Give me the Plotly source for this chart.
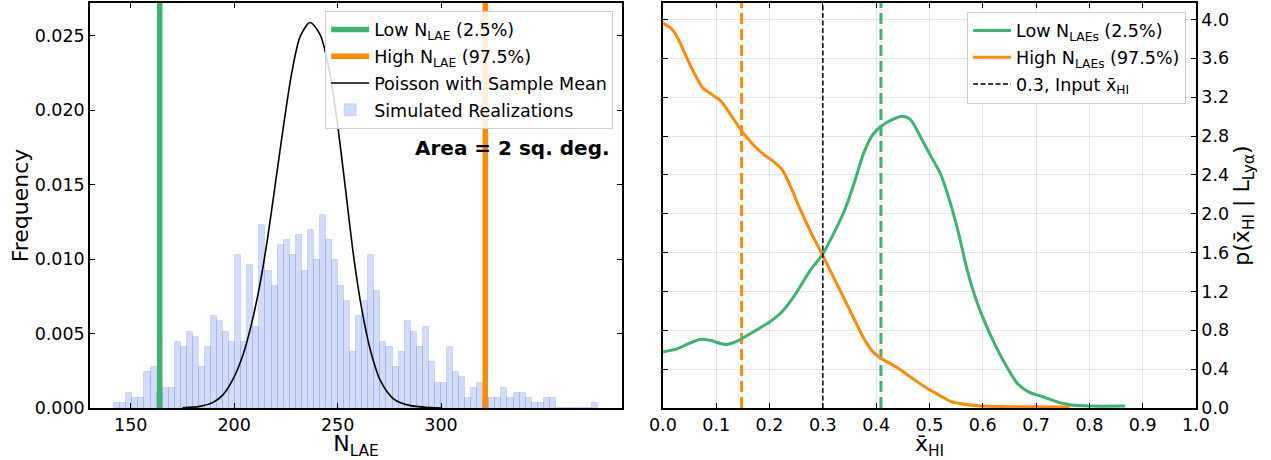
import plotly.graph_objects as go

# ---------------- Left panel data ----------------
n_realizations = 1000
bin_start = 142.0
bin_width = 2.925
hist_counts = [1, 1, 3, 2, 2, 7, 8, 3, 4, 4,
               13, 12, 15, 14, 8, 12, 18, 17, 15, 13,
               30, 13, 28, 16, 36, 27, 24, 32, 33, 30,
               34, 27, 35, 29, 38, 33, 29, 24, 21, 11,
               18, 21, 30, 23, 13, 12, 8, 11, 17, 15,
               12, 16, 9, 5, 5, 12, 7, 6, 2, 4,
               5, 2, 2, 2, 4, 2, 3, 3, 2, 1,
               1, 2, 2, 0, 0, 0, 0, 0, 0, 1]
low_nlae = 164.0
high_nlae = 321.4
poisson_x = [175.0, 183.3, 189.8, 194.7, 199.5, 204.4, 208.4, 212.5, 216.0, 219.7,
             223.8, 227.8, 231.9, 236.7, 241.6, 245.6, 249.7, 253.7, 257.8, 261.8,
             265.9, 270.7, 277.2, 285.3, 300.0]
poisson_y = [0.00002, 0.00011, 0.00038, 0.00090, 0.00195, 0.00363, 0.00565, 0.00834, 0.01126, 0.01485,
             0.01889, 0.02248, 0.02494, 0.02589, 0.02506, 0.02293, 0.01934, 0.01485, 0.01014, 0.00655,
             0.00386, 0.00184, 0.00060, 0.00016, 0.0]
left_xticks = [150, 200, 250, 300]
left_xrange = [130.3, 387.5]
left_ymax = 0.0272

# ---------------- Right panel data ----------------
low_x = [0.0, 0.028, 0.048, 0.072, 0.0885, 0.119, 0.142, 0.169, 0.200, 0.223,
         0.249, 0.276, 0.300, 0.323, 0.343, 0.360, 0.377, 0.394, 0.410, 0.431,
         0.449, 0.464, 0.484, 0.504, 0.521, 0.538, 0.555, 0.571, 0.588, 0.605,
         0.625, 0.645, 0.665, 0.685, 0.712, 0.739, 0.766, 0.800, 0.867]
low_p = [0.578, 0.612, 0.663, 0.708, 0.697, 0.653, 0.697, 0.783, 0.885, 0.988,
         1.176, 1.415, 1.586, 1.826, 2.065, 2.338, 2.629, 2.817, 2.903, 2.971,
         3.005, 2.971, 2.783, 2.578, 2.407, 2.133, 1.791, 1.415, 1.108, 0.868,
         0.629, 0.424, 0.253, 0.168, 0.116, 0.065, 0.031, 0.020, 0.020]
high_x = [0.0, 0.015, 0.028, 0.045, 0.062, 0.075, 0.092, 0.109, 0.129, 0.148,
          0.169, 0.189, 0.206, 0.223, 0.239, 0.256, 0.276, 0.300, 0.320, 0.340,
          0.360, 0.377, 0.394, 0.410, 0.437, 0.464, 0.491, 0.518, 0.541, 0.565,
          0.598, 0.645, 0.763]
high_p = [3.962, 3.911, 3.808, 3.603, 3.415, 3.296, 3.227, 3.159, 3.005, 2.851,
          2.714, 2.612, 2.544, 2.458, 2.287, 2.065, 1.826, 1.569, 1.347, 1.125,
          0.903, 0.715, 0.578, 0.509, 0.424, 0.321, 0.219, 0.133, 0.065, 0.038,
          0.020, 0.014, 0.010]
low_median = 0.409
high_median = 0.1476
input_xhi = 0.3
right_ymax = 4.17

GREEN = "#3cb371"
ORANGE = "#ff8c00"
FONT = "DejaVu Sans"
TICK_SIZE = 17.5
TITLE_SIZE = 22

bin_centers = [bin_start + (i + 0.5) * bin_width for i in range(len(hist_counts))]
density = [c / (n_realizations * bin_width) for c in hist_counts]

fig = go.Figure()

# left legend traces
fig.add_trace(go.Scatter(x=[low_nlae, low_nlae], y=[0, left_ymax], mode="lines",
                         line=dict(color=GREEN, width=5.5),
                         name="Low N<sub>LAE</sub> (2.5%)", legendgroup="a",
                         xaxis="x", yaxis="y", legend="legend"))
fig.add_trace(go.Scatter(x=[high_nlae, high_nlae], y=[0, left_ymax], mode="lines",
                         line=dict(color=ORANGE, width=5.5),
                         name="High N<sub>LAE</sub> (97.5%)", legendgroup="b",
                         xaxis="x", yaxis="y", legend="legend"))
fig.add_trace(go.Scatter(x=poisson_x, y=poisson_y, mode="lines",
                         line=dict(color="black", width=1.6, shape="spline", smoothing=0.8),
                         name="Poisson with Sample Mean", legendgroup="c",
                         xaxis="x", yaxis="y", legend="legend"))
fig.add_trace(go.Bar(x=bin_centers, y=density, width=bin_width,
                     marker=dict(color="rgba(65,105,225,0.24)",
                                 line=dict(color="rgba(65,105,225,0.18)", width=1)),
                     name="Simulated Realizations", legendgroup="d",
                     xaxis="x", yaxis="y", legend="legend"))

# right panel
fig.add_trace(go.Scatter(x=[high_median, high_median], y=[0, right_ymax], mode="lines",
                         line=dict(color=ORANGE, width=3, dash="11px,5px"),
                         showlegend=False, xaxis="x2", yaxis="y2"))
fig.add_trace(go.Scatter(x=[low_median, low_median], y=[0, right_ymax], mode="lines",
                         line=dict(color=GREEN, width=3, dash="11px,5px"),
                         showlegend=False, xaxis="x2", yaxis="y2"))
fig.add_trace(go.Scatter(x=low_x, y=low_p, mode="lines",
                         line=dict(color=GREEN, width=3, shape="spline", smoothing=0.8),
                         name="Low N<sub>LAEs</sub> (2.5%)", legendgroup="e",
                         xaxis="x2", yaxis="y2", legend="legend2"))
fig.add_trace(go.Scatter(x=high_x, y=high_p, mode="lines",
                         line=dict(color=ORANGE, width=3, shape="spline", smoothing=0.8),
                         name="High N<sub>LAEs</sub> (97.5%)", legendgroup="f",
                         xaxis="x2", yaxis="y2", legend="legend2"))
fig.add_trace(go.Scatter(x=[input_xhi, input_xhi], y=[0, right_ymax], mode="lines",
                         line=dict(color="black", width=1.5, dash="5px,2.5px"),
                         name="0.3, Input x\u0304<sub>HI</sub>", legendgroup="g",
                         xaxis="x2", yaxis="y2", legend="legend2"))

axis_common = dict(showline=True, linecolor="black", linewidth=1.5, mirror="allticks",
                   ticks="inside", ticklen=5, tickwidth=1.2, tickcolor="black",
                   tickfont=dict(family=FONT, size=TICK_SIZE, color="black"),
                   zeroline=False, automargin=False)

legend_common = dict(bgcolor="rgba(255,255,255,0.85)", bordercolor="#d0d0d0", borderwidth=1,
                     font=dict(family=FONT, size=TICK_SIZE, color="black"),
                     traceorder="grouped", tracegroupgap=1, itemwidth=38,
                     yanchor="top", xanchor="right")

fig.update_layout(
    width=1271, height=460,
    margin=dict(l=90, r=75, t=3, b=52, autoexpand=False),
    paper_bgcolor="white", plot_bgcolor="white",
    font=dict(family=FONT, color="black"),
    bargap=0,
    xaxis=dict(domain=[0, 0.481], range=left_xrange, tickvals=left_xticks,
               showgrid=False, anchor="y",
               title=dict(text="N<sub>LAE</sub>", font=dict(size=TITLE_SIZE), standoff=2),
               **axis_common),
    yaxis=dict(range=[0, left_ymax], dtick=0.005, tickformat=".3f", showgrid=False,
               anchor="x",
               title=dict(text="Frequency", font=dict(size=TITLE_SIZE), standoff=0),
               **axis_common),
    xaxis2=dict(domain=[0.518, 1], range=[0, 1], dtick=0.1, tickformat=".1f",
                showgrid=True, gridcolor="#e6e6e6", gridwidth=1, anchor="y2",
                title=dict(text="x\u0304<sub>HI</sub>", font=dict(size=TITLE_SIZE), standoff=2),
                **axis_common),
    yaxis2=dict(range=[0, right_ymax], dtick=0.4, tickformat=".1f", side="right",
                showgrid=True, gridcolor="#e6e6e6", gridwidth=1, anchor="x2",
                title=dict(text="p(x\u0304<sub>HI</sub> | L<sub>Ly\u03b1</sub>)",
                           font=dict(size=TITLE_SIZE), standoff=6),
                **axis_common),
    legend=dict(x=0.473, y=0.981, **legend_common),
    legend2=dict(x=0.991, y=0.979, **legend_common),
    annotations=[dict(text="<b>Area = 2 sq. deg.</b>", xref="x domain", yref="y domain",
                      x=0.981, y=0.642, xanchor="right", yanchor="middle", showarrow=False,
                      font=dict(family=FONT, size=20, color="black"))],
)

fig.write_html("out.html", config={"displayModeBar": False},
               post_script="document.body.style.margin='0';document.body.style.overflow='hidden';")
